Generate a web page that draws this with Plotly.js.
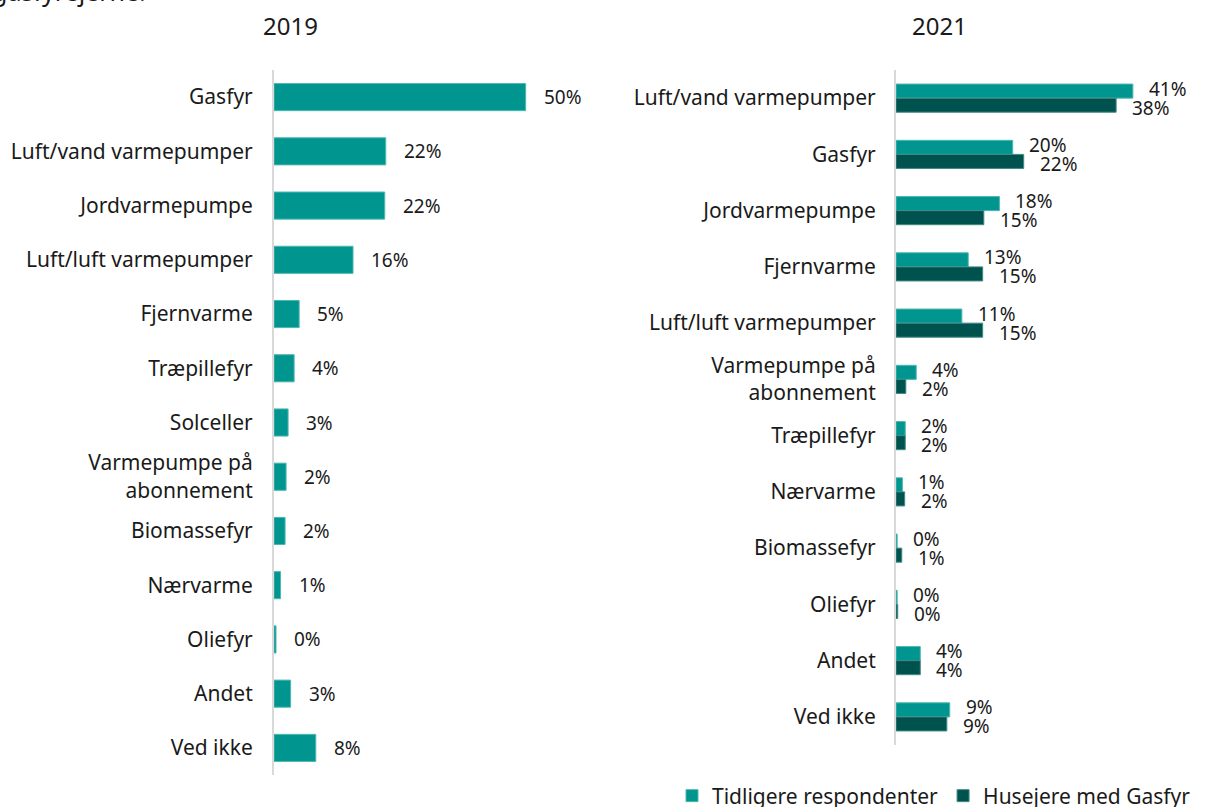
<!DOCTYPE html>
<html>
<head>
<meta charset="utf-8">
<script src="https://cdn.plot.ly/plotly-3.0.1.min.js"></script>
<style>html,body{margin:0;padding:0;background:#fff;}#chart{width:1212px;height:807px;}</style>
</head>
<body>
<div id="chart"></div>
<script>
// ---- data ----
const cats2019 = ["Gasfyr", "Luft/vand varmepumper", "Jordvarmepumpe", "Luft/luft varmepumper", "Fjernvarme", "Træpillefyr", "Solceller", "Varmepumpe på<br>abonnement", "Biomassefyr", "Nærvarme", "Oliefyr", "Andet", "Ved ikke"];
const vals2019 = [50, 22.2, 22.0, 15.7, 5.0, 4.0, 2.8, 2.4, 2.2, 1.3, 0.4, 3.3, 8.3];

const cats2021 = ["Luft/vand varmepumper", "Gasfyr", "Jordvarmepumpe", "Fjernvarme", "Luft/luft varmepumper", "Varmepumpe på<br>abonnement", "Træpillefyr", "Nærvarme", "Biomassefyr", "Oliefyr", "Andet", "Ved ikke"];
const valsTidligere = [41.0, 20.2, 17.9, 12.5, 11.4, 3.5, 1.6, 1.1, 0.2, 0.2, 4.2, 9.3];
const valsHusejere = [38.1, 22.1, 15.2, 15.0, 15.0, 1.7, 1.6, 1.5, 1.0, 0.3, 4.2, 8.8];

const seriesNames = ["Tidligere respondenter", "Husejere med Gasfyr"];
const panelTitles = ["2019", "2021"];

// ---- style ----
const TEAL = "#00958f";
const DARK = "#00524f";
const FONT = "Noto Sans, Liberation Sans, sans-serif";
const W = 1212, H = 807;
const fmt = v => Math.round(v) + "%";

const traces = [
  {type: "bar", orientation: "h", x: vals2019, y: cats2019, xaxis: "x", yaxis: "y",
   marker: {color: TEAL, line: {color: "#4fb7b2", width: 1}}, showlegend: false, hoverinfo: "x+y"},
  {type: "bar", orientation: "h", x: valsTidligere, y: cats2021, xaxis: "x2", yaxis: "y2",
   name: seriesNames[0], marker: {color: TEAL, line: {color: "#4fb7b2", width: 1}}},
  {type: "bar", orientation: "h", x: valsHusejere, y: cats2021, xaxis: "x2", yaxis: "y2",
   name: seriesNames[1], marker: {color: DARK, line: {color: "#3f8a86", width: 1}}}
];

const annotations = [];
vals2019.forEach((v, i) => annotations.push({
  xref: "x", yref: "y", x: v, y: cats2019[i], text: fmt(v), showarrow: false,
  xanchor: "left", xshift: 16, font: {family: FONT, size: 19, color: "#1a1a1a"}
}));
valsTidligere.forEach((v, i) => annotations.push({
  xref: "x2", yref: "y2", x: v, y: cats2021[i], text: fmt(v), showarrow: false,
  xanchor: "left", xshift: 14, yshift: 9.5, font: {family: FONT, size: 19, color: "#1a1a1a"}
}));
valsHusejere.forEach((v, i) => annotations.push({
  xref: "x2", yref: "y2", x: v, y: cats2021[i], text: fmt(v), showarrow: false,
  xanchor: "left", xshift: 14, yshift: -9.5, font: {family: FONT, size: 19, color: "#1a1a1a"}
}));
annotations.push({xref: "paper", yref: "paper", x: 290 / W, y: 1 - 25 / H, text: panelTitles[0],
  showarrow: false, xanchor: "center", yanchor: "middle", font: {family: FONT, size: 24, color: "#1a1a1a"}});
annotations.push({xref: "paper", yref: "paper", x: 940 / W, y: 1 - 25 / H, text: panelTitles[1],
  showarrow: false, xanchor: "center", yanchor: "middle", font: {family: FONT, size: 24, color: "#1a1a1a"}});
// clipped caption fragment at top-left
annotations.push({xref: "paper", yref: "paper", x: -10 / W, y: 1 + 9 / H, text: "gasfyrejerne.",
  showarrow: false, xanchor: "left", yanchor: "middle", font: {family: FONT, size: 25, color: "#1a1a1a"}});

const layout = {
  width: W, height: H,
  margin: {l: 0, r: 0, t: 0, b: 0, autoexpand: false},
  paper_bgcolor: "#fff", plot_bgcolor: "#fff",
  font: {family: FONT, size: 19, color: "#1a1a1a"},
  barmode: "group",
  bargap: 0.5,
  xaxis: {domain: [274 / W, 576 / W], range: [0, 60], visible: false, fixedrange: true},
  yaxis: {domain: [1 - 775 / H, 1 - 70 / H], type: "category", autorange: "reversed",
          showline: true, linecolor: "#d9d9d9", linewidth: 2, showgrid: false, zeroline: false,
          ticks: "", ticklabelstandoff: 15, tickfont: {family: FONT, size: 21, color: "#1a1a1a"}},
  xaxis2: {domain: [896 / W, 1208 / W], range: [0, 54], visible: false, anchor: "y2", fixedrange: true},
  yaxis2: {domain: [1 - 745 / H, 1 - 70 / H], type: "category", autorange: "reversed", anchor: "x2",
           showline: true, linecolor: "#d9d9d9", linewidth: 2, showgrid: false, zeroline: false,
           ticks: "", ticklabelstandoff: 14, tickfont: {family: FONT, size: 21, color: "#1a1a1a"}},
  legend: {orientation: "h", x: 672 / W, xanchor: "left",
           y: 1 - 796 / H, yanchor: "middle",
           font: {family: FONT, size: 21, color: "#1a1a1a"}, itemwidth: 30, bgcolor: "rgba(0,0,0,0)"},
  annotations: annotations,
  showlegend: true
};

Plotly.newPlot("chart", traces, layout, {displayModeBar: false, staticPlot: true});
</script>
</body>
</html>
